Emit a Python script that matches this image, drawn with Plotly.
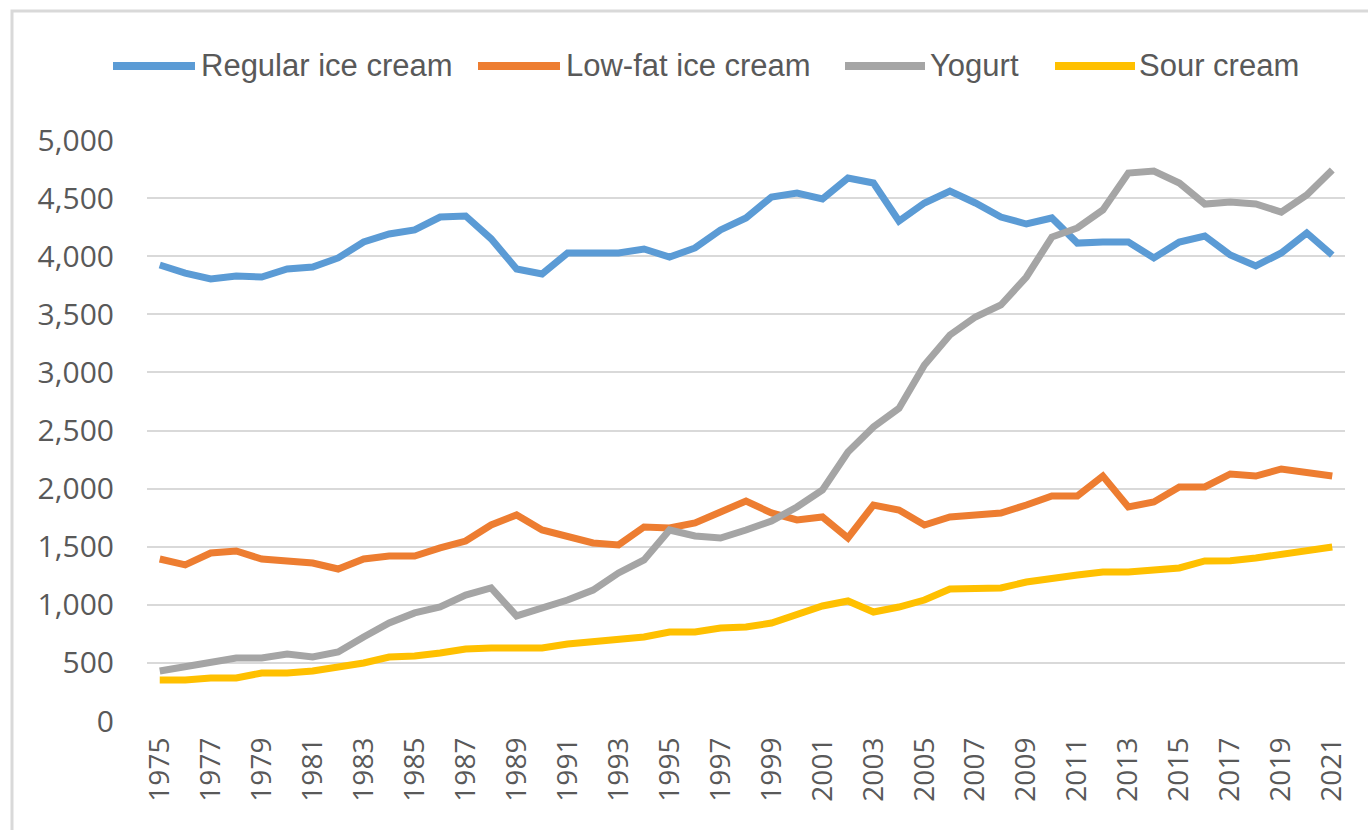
import plotly.graph_objects as go

# Annual production by product, 1975-2021
years = list(range(1975, 2022))

regular_ice_cream = [3924, 3855, 3804, 3830, 3821, 3890, 3907, 3985, 4122, 4191,
                     4226, 4337, 4346, 4150, 3890, 3847, 4028, 4028, 4028, 4062,
                     3993, 4071, 4226, 4329, 4510, 4544, 4492, 4673, 4630, 4303,
                     4458, 4561, 4458, 4337, 4277, 4329, 4113, 4122, 4122, 3985,
                     4122, 4174, 4010, 3916, 4028, 4200, 4010]
lowfat_ice_cream = [1394, 1343, 1446, 1463, 1394, 1377, 1360, 1308, 1394, 1420,
                    1420, 1489, 1549, 1687, 1773, 1644, 1584, 1532, 1515, 1670,
                    1661, 1704, 1799, 1893, 1790, 1730, 1756, 1575, 1859, 1816,
                    1687, 1756, 1773, 1790, 1859, 1936, 1936, 2108, 1842, 1885,
                    2014, 2014, 2126, 2108, 2169, 2134, 2108]
yogurt = [430, 465, 508, 542, 542, 577, 551, 594, 723, 843,
          930, 981, 1084, 1145, 904, 972, 1041, 1127, 1274, 1386,
          1644, 1592, 1575, 1644, 1721, 1842, 1988, 2315, 2530, 2690,
          3064, 3322, 3477, 3580, 3821, 4165, 4243, 4398, 4716, 4733,
          4630, 4449, 4467, 4449, 4380, 4527, 4742]
sour_cream = [353, 353, 370, 370, 413, 413, 430, 465, 499, 551,
              559, 585, 620, 628, 628, 628, 663, 688, 706, 723,
              766, 766, 800, 809, 843, 912, 990, 1033, 938, 981,
              1041, 1136, 1136, 1145, 1196, 1231, 1256, 1282, 1282, 1300,
              1317, 1377, 1380, 1403, 1437, 1463, 1497]

series_names = ["Regular ice cream", "Low-fat ice cream", "Yogurt", "Sour cream"]
series_values = [regular_ice_cream, lowfat_ice_cream, yogurt, sour_cream]
colors = ["#5B9BD5", "#ED7D31", "#A5A5A5", "#FFC000"]

W, H = 1368, 830
L, R, T, B = 147, 23, 140, 109
plot_w = W - L - R
plot_h = H - T - B


def px_x(p):
    return (p - L) / plot_w


def px_y(p):
    return (H - B - p) / plot_h


fig = go.Figure()
for name, vals, col in zip(series_names, series_values, colors):
    fig.add_trace(go.Scatter(
        x=years, y=vals, name=name, mode="lines",
        line=dict(color=col, width=7),
        showlegend=False,
    ))

# Legend row drawn along the top
legend_lines = [(113, 195), (478, 560), (845, 925), (1055, 1135)]
legend_text_x = [199, 564, 928, 1137]
legend_y = 66
shapes = []
annotations = []
for name, col, (x0, x1), tx in zip(series_names, colors, legend_lines, legend_text_x):
    shapes.append(dict(type="line", xref="paper", yref="paper",
                       x0=px_x(x0), x1=px_x(x1), y0=px_y(legend_y), y1=px_y(legend_y),
                       line=dict(color=col, width=8)))
    annotations.append(dict(text=name, xref="paper", yref="paper",
                            x=px_x(tx), y=px_y(legend_y), xanchor="left", yanchor="middle",
                            showarrow=False,
                            font=dict(family="Liberation Sans, Arial, sans-serif",
                                      size=31, color="#595959")))

# Outer chart border
shapes.append(dict(type="rect", xref="paper", yref="paper",
                   x0=px_x(12), x1=px_x(W + 20), y0=px_y(11), y1=px_y(H + 20),
                   line=dict(color="#D9D9D9", width=3), fillcolor="rgba(0,0,0,0)",
                   layer="below"))

fig.update_layout(
    width=W, height=H, autosize=False,
    margin=dict(l=L, r=R, t=T, b=B),
    paper_bgcolor="white", plot_bgcolor="white",
    shapes=shapes, annotations=annotations,
    font=dict(family="Open Sans, sans-serif", color="#595959"),
)
fig.update_xaxes(
    range=[1974.5, 2021.5], tickmode="array", tickvals=years[::2],
    ticktext=[str(y) for y in years[::2]], tickangle=-90,
    showgrid=False, zeroline=False, showline=False,
    ticks="", ticklabelstandoff=10,
    tickfont=dict(size=28, color="#595959"),
)
fig.update_yaxes(
    range=[0, 5000], dtick=500, tickformat=",",
    showgrid=True, gridcolor="#D9D9D9", gridwidth=2,
    zeroline=False, showline=False, ticks="", ticklabelstandoff=32,
    tickfont=dict(size=30, color="#595959"),
)

fig.write_html("out.html")
